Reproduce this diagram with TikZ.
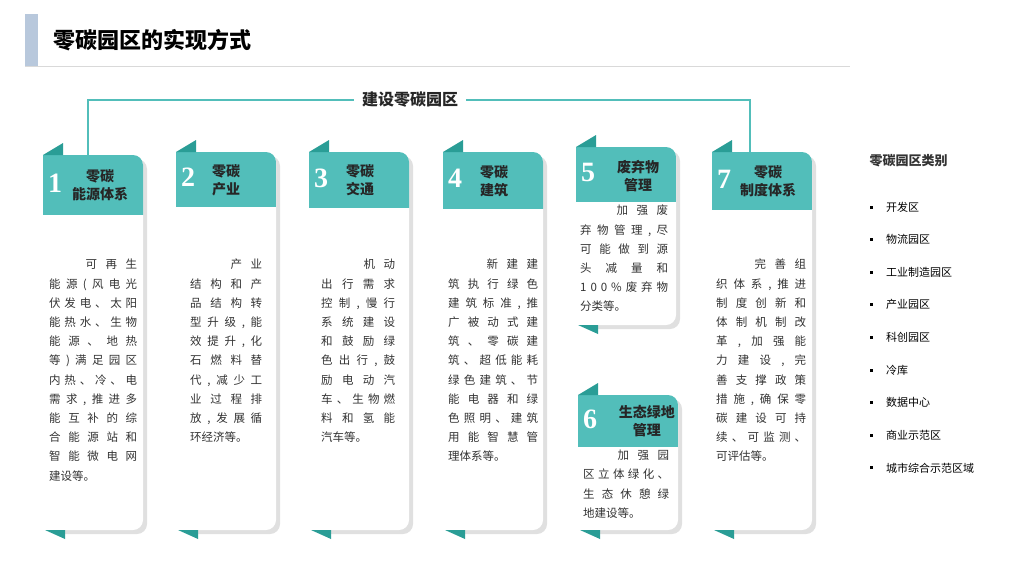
\documentclass[tikz,border=0pt]{standalone}
\usepackage{fontspec}
\setmainfont{Liberation Serif}
\newfontfamily\cjk{Noto Sans CJK SC}
\definecolor{teal1}{HTML}{52BEBA}
\definecolor{teal2}{HTML}{2A9D96}
\definecolor{titlebar}{HTML}{B8C8DC}
\newdimen\lw \lw=88pt
\makeatletter
\def\jx#1{#1\futurelet\nxt\jy}
\def\jy{\ifx\nxt\relax\expandafter\@gobble\else\hfil\expandafter\jx\fi}
\def\px#1{\hbox to 20pt{\hss#1}\futurelet\nxt\py}
\def\py{\ifx\nxt\relax\expandafter\@gobble\else\expandafter\px\fi}
\makeatother
\newcommand\jl[1]{\hbox to \lw{\jx#1\relax}}
\newcommand\fl[1]{\hbox to \lw{\hfil\px#1\relax}}
\newcommand\lastl[1]{\hbox to \lw{#1\hfil}}
\tikzset{
 bodytxt/.style={anchor=north west,align=left,inner sep=0pt,font=\cjk\fontsize{11.5}{19.2}\selectfont,text=black!80},
 headtxt/.style={text=black!85,font=\cjk\bfseries\fontsize{14}{18}\selectfont,align=center,inner sep=0pt},
 numtxt/.style={text=white,font=\bfseries\fontsize{28}{28}\selectfont,anchor=west,inner sep=0pt},
 cat/.style={anchor=west,font=\cjk\fontsize{11}{13}\selectfont,inner sep=0pt},
}
\newcommand\zcard[5]{%
 \fill[black!12,rounded corners=10pt] (#1+5,#4+4) -- (#1+5,#2+4) -- (#1+104,#2+4) -- (#1+104,#4+4) -- cycle;
 \path[fill=white] (#1,#4) -- (#1,#2) [rounded corners=10pt] -- (#1+100,#2) -- (#1+100,#4) [sharp corners] -- cycle;
 \begin{scope}
 \clip (#1,#4) -- (#1,#2) [rounded corners=10pt] -- (#1+100,#2) -- (#1+100,#4) [sharp corners] -- cycle;
 \fill[teal1] (#1,#2-1) rectangle (#1+101,#3);
 \end{scope}
 \fill[teal2] (#1,#2) -- (#1+20,#2-12) -- (#1+20,#2) -- cycle;
 \fill[teal2] (#1+2,#4) -- (#1+22,#4) -- (#1+22,#4+9) -- cycle;
 \node[numtxt] (n#5) at (#1+5,{(#2+#3)/2-2}) {#5};
}
\begin{document}
\begin{tikzpicture}[x=1pt,y=-1pt]
\useasboundingbox (0,0) rectangle (1024,576);
\fill[white] (0,0) rectangle (1024,576);
\fill[titlebar] (25,14) rectangle (38,66);
\node[anchor=west,font=\cjk\bfseries\fontsize{22}{24}\selectfont] (title) at (50,40) {零碳园区的实现方式};
\draw[black!15,line width=0.8pt] (25,66) -- (850,66);
\coordinate (c1) at (88,155);
\coordinate (c7) at (750,152);
\draw[teal1,line width=1.3pt] (c1) -- (88,100) -- (750,100) -- (c7);
\node[fill=white,inner xsep=8pt,font=\cjk\bfseries\fontsize{16}{18}\selectfont,text=black!85] (main) at (410,100) {建设零碳园区};
\zcard{43}{155}{215}{530}{1}
\node[headtxt] (h1) at (100,185) {零碳\\能源体系};
\lw=88pt
\node[bodytxt] (b1) at (49,259) {\fl{可再生}\\\jl{能源(风电光}\\\jl{伏发电、太阳}\\\jl{能热水、生物}\\\jl{能源、地热}\\\jl{等)满足园区}\\\jl{内热、冷、电}\\\jl{需求,推进多}\\\jl{能互补的综}\\\jl{合能源站和}\\\jl{智能微电网}\\\lastl{建设等。}};
\zcard{176}{152}{207}{530}{2}
\node[headtxt] (h2) at (226,180) {零碳\\产业};
\lw=72pt
\node[bodytxt] (b2) at (190,259) {\fl{产业}\\\jl{结构和产}\\\jl{品结构转}\\\jl{型升级,能}\\\jl{效提升,化}\\\jl{石燃料替}\\\jl{代,减少工}\\\jl{业过程排}\\\jl{放,发展循}\\\lastl{环经济等。}};
\zcard{309}{152}{208}{530}{3}
\node[headtxt] (h3) at (360,180) {零碳\\交通};
\lw=74pt
\node[bodytxt] (b3) at (321,259) {\fl{机动}\\\jl{出行需求}\\\jl{控制,慢行}\\\jl{系统建设}\\\jl{和鼓励绿}\\\jl{色出行,鼓}\\\jl{励电动汽}\\\jl{车、生物燃}\\\jl{料和氢能}\\\lastl{汽车等。}};
\zcard{443}{152}{209}{530}{4}
\node[headtxt] (h4) at (494,181) {零碳\\建筑};
\lw=90pt
\node[bodytxt] (b4) at (448,259) {\fl{新建建}\\\jl{筑执行绿色}\\\jl{建筑标准,推}\\\jl{广被动式建}\\\jl{筑、零碳建}\\\jl{筑、超低能耗}\\\jl{绿色建筑、节}\\\jl{能电器和绿}\\\jl{色照明、建筑}\\\jl{用能智慧管}\\\lastl{理体系等。}};
\zcard{576}{147}{202}{325}{5}
\node[headtxt] (h5) at (638,176) {废弃物\\管理};
\lw=88pt
\node[bodytxt] (b5) at (580,205) {\fl{加强废}\\\jl{弃物管理,尽}\\\jl{可能做到源}\\\jl{头减量和}\\\jl{100\%废弃物}\\\lastl{分类等。}};
\zcard{578}{395}{447}{530}{6}
\node[headtxt,anchor=east] (h6) at (675,421) {生态绿地\\管理};
\lw=86pt
\node[bodytxt] (b6) at (583,450) {\fl{加强园}\\\jl{区立体绿化、}\\\jl{生态休憩绿}\\\lastl{地建设等。}};
\zcard{712}{152}{210}{530}{7}
\node[headtxt] (h7) at (768,181) {零碳\\制度体系};
\lw=90pt
\node[bodytxt] (b7) at (716,259) {\fl{完善组}\\\jl{织体系,推进}\\\jl{制度创新和}\\\jl{体制机制改}\\\jl{革,加强能}\\\jl{力建设,完}\\\jl{善支撑政策}\\\jl{措施,确保零}\\\jl{碳建设可持}\\\jl{续、可监测、}\\\lastl{可评估等。}};
\node[anchor=west,font=\cjk\bfseries\fontsize{13}{15}\selectfont,text=black!80] (cathead) at (866,161) {零碳园区类别};
\foreach \t [count=\i] in {开发区,物流园区,工业制造园区,产业园区,科创园区,冷库,数据中心,商业示范区,城市综合示范区域}{
 \fill (870,{207+(\i-1)*32.6-1.5}) rectangle +(3,3);
 \node[cat] (cat\i) at (886,{207+(\i-1)*32.6}) {\t};
}
\end{tikzpicture}
\end{document}
